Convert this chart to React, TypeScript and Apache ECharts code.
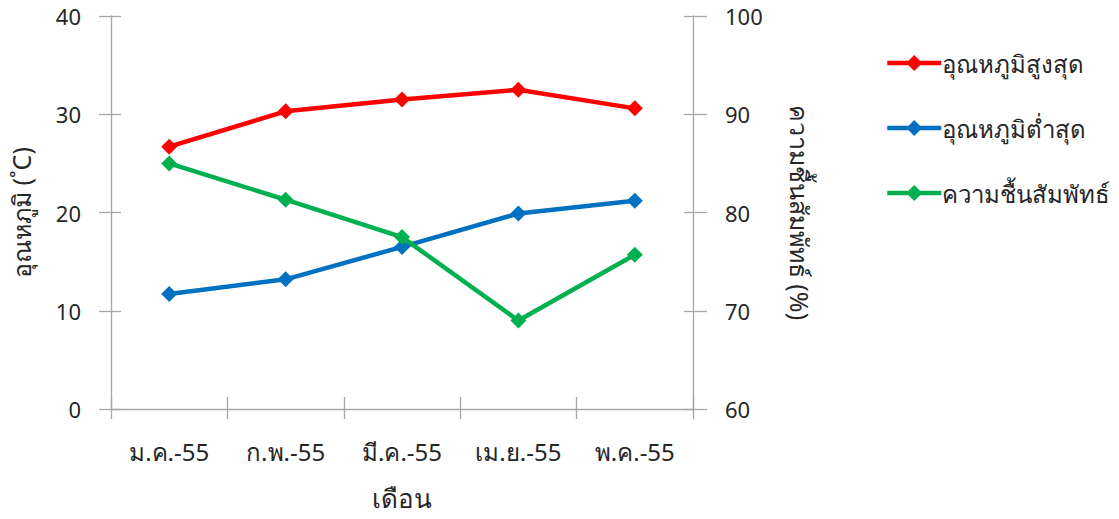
import React, { useEffect, useRef } from "react";
import * as echarts from "echarts";

const months = ["ม.ค.-55", "ก.พ.-55", "มี.ค.-55", "เม.ย.-55", "พ.ค.-55"];
const maxTemp = [26.7, 30.3, 31.5, 32.5, 30.6];
const minTemp = [11.7, 13.2, 16.5, 19.9, 21.2];
const humidity = [85.0, 81.3, 77.5, 69.0, 75.7];

const seriesNames = ["อุณหภูมิสูงสุด", "อุณหภูมิต่ำสุด", "ความชื้นสัมพัทธ์"];
const seriesColors = ["#FF0000", "#0070C0", "#00B050"];

const FONT = "'Noto Sans', 'DejaVu Sans', sans-serif";
const AXIS = "#A6A6A6";
const TEXT = "#262626";

export default function App() {
  const ref = useRef<HTMLDivElement>(null);
  useEffect(() => {
    if (!ref.current) return;
    const chart = echarts.init(ref.current, undefined, { renderer: "svg" });
    const lineStyle = { color: AXIS, width: 1.3 };
    const mkSeries = (i: number, data: number[], yIdx: number) => ({
      name: seriesNames[i],
      type: "line",
      data,
      yAxisIndex: yIdx,
      symbol: "diamond",
      symbolSize: 16,
      color: seriesColors[i],
      lineStyle: { width: 4.5, color: seriesColors[i] },
      itemStyle: { color: seriesColors[i] },
    });
    chart.setOption({
      animation: false,
      backgroundColor: "#ffffff",
      textStyle: { fontFamily: FONT },
      grid: { left: 110, right: 426, top: 16, bottom: 110 },
      legend: {
        orient: "vertical",
        left: 880,
        top: 46,
        itemWidth: 54,
        itemHeight: 20,
        itemGap: 41,
        lineStyle: { width: 4.5 },
        textStyle: { fontSize: 24, color: TEXT, fontFamily: FONT, padding: [0, 0, 0, -4] },
        data: seriesNames,
      },
      xAxis: [
        {
          type: "category",
          data: months,
          boundaryGap: true,
          axisLine: { lineStyle },
          axisTick: { show: true, length: 10, lineStyle },
          axisLabel: { fontSize: 24, color: TEXT, margin: 30 },
          name: "เดือน",
          nameLocation: "middle",
          nameGap: 76,
          nameTextStyle: { fontSize: 26, color: TEXT },
        },
        {
          type: "category",
          data: months,
          position: "bottom",
          boundaryGap: true,
          axisLine: { show: false },
          axisTick: { show: true, inside: true, length: 12, lineStyle },
          axisLabel: { show: false },
        },
      ],
      yAxis: [
        {
          type: "value",
          min: 0,
          max: 40,
          interval: 10,
          position: "left",
          axisLine: { show: true, lineStyle },
          axisTick: { show: true, length: 12, lineStyle },
          axisLabel: { fontSize: 22, color: TEXT, margin: 30 },
          splitLine: { show: false },
          name: "อุณหภูมิ (˚C)",
          nameLocation: "middle",
          nameGap: 78,
          nameTextStyle: { fontSize: 25, color: TEXT },
        },
        {
          type: "value",
          min: 60,
          max: 100,
          interval: 10,
          position: "right",
          axisLine: { show: true, lineStyle },
          axisTick: { show: true, length: 14, lineStyle },
          axisLabel: { fontSize: 22, color: TEXT, margin: 32 },
          splitLine: { show: false },
          name: "ความชื้นสัมพัทธ์ (%)",
          nameLocation: "middle",
          nameRotate: -90,
          nameGap: 94,
          nameTextStyle: { fontSize: 25, color: TEXT },
        },
        {
          type: "value",
          min: 0,
          max: 40,
          interval: 10,
          position: "left",
          axisLine: { show: false },
          axisTick: { show: true, inside: true, length: 10, lineStyle },
          axisLabel: { show: false },
          splitLine: { show: false },
        },
        {
          type: "value",
          min: 60,
          max: 100,
          interval: 10,
          position: "right",
          axisLine: { show: false },
          axisTick: { show: true, inside: true, length: 9, lineStyle },
          axisLabel: { show: false },
          splitLine: { show: false },
        },
      ],
      series: [
        mkSeries(0, maxTemp, 0),
        mkSeries(1, minTemp, 0),
        mkSeries(2, humidity, 1),
      ],
    });
    return () => chart.dispose();
  }, []);
  return <div ref={ref} style={{ width: 1119, height: 519, position: "absolute", left: 0, top: 0 }} />;
}
